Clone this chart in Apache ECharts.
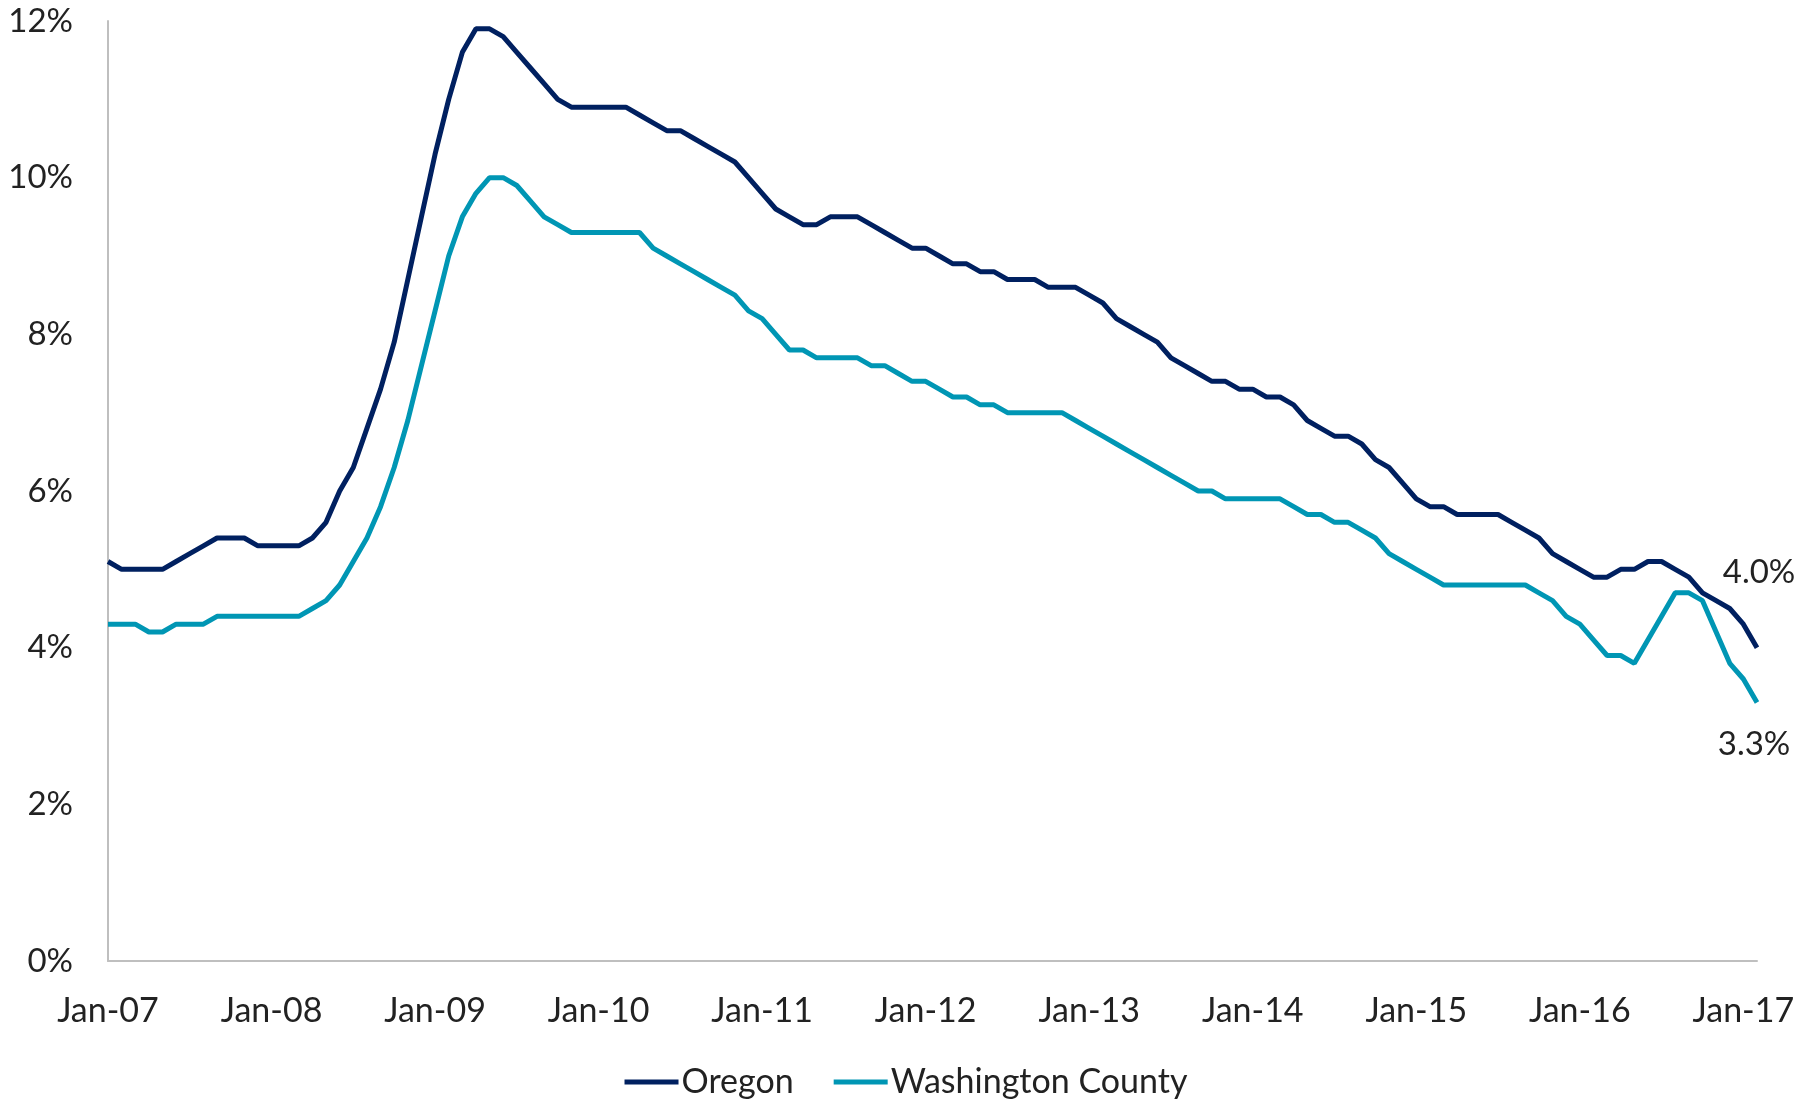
<!DOCTYPE html>
<html>
<head>
<meta charset="utf-8">
<title>Unemployment rate, Oregon vs Washington County</title>
<script src="https://cdn.jsdelivr.net/npm/echarts@6/dist/echarts.min.js"></script>
<style>
  html, body { margin: 0; padding: 0; background: #fff; }
  #chart { width: 1812px; height: 1100px; }
</style>
</head>
<body>
<div id="chart"></div>
<script>
// months Jan-07 .. Feb-17
const years = ["07", "08", "09", "10", "11", "12", "13", "14", "15", "16", "17"];
const months = ["Jan", "Feb", "Mar", "Apr", "May", "Jun", "Jul", "Aug", "Sep", "Oct", "Nov", "Dec"];
const monthCount = 122;

const oregon = [
  5.1, 5.0, 5.0, 5.0, 5.0, 5.1, 5.2, 5.3, 5.4, 5.4, 5.4, 5.3,
  5.3, 5.3, 5.3, 5.4, 5.6, 6.0, 6.3, 6.8, 7.3, 7.9, 8.7, 9.5,
  10.3, 11.0, 11.6, 11.9, 11.9, 11.8, 11.6, 11.4, 11.2, 11.0, 10.9, 10.9,
  10.9, 10.9, 10.9, 10.8, 10.7, 10.6, 10.6, 10.5, 10.4, 10.3, 10.2, 10.0,
  9.8, 9.6, 9.5, 9.4, 9.4, 9.5, 9.5, 9.5, 9.4, 9.3, 9.2, 9.1,
  9.1, 9.0, 8.9, 8.9, 8.8, 8.8, 8.7, 8.7, 8.7, 8.6, 8.6, 8.6,
  8.5, 8.4, 8.2, 8.1, 8.0, 7.9, 7.7, 7.6, 7.5, 7.4, 7.4, 7.3,
  7.3, 7.2, 7.2, 7.1, 6.9, 6.8, 6.7, 6.7, 6.6, 6.4, 6.3, 6.1,
  5.9, 5.8, 5.8, 5.7, 5.7, 5.7, 5.7, 5.6, 5.5, 5.4, 5.2, 5.1,
  5.0, 4.9, 4.9, 5.0, 5.0, 5.1, 5.1, 5.0, 4.9, 4.7, 4.6, 4.5,
  4.3, 4.0
];

const washington = [
  4.3, 4.3, 4.3, 4.2, 4.2, 4.3, 4.3, 4.3, 4.4, 4.4, 4.4, 4.4,
  4.4, 4.4, 4.4, 4.5, 4.6, 4.8, 5.1, 5.4, 5.8, 6.3, 6.9, 7.6,
  8.3, 9.0, 9.5, 9.8, 10.0, 10.0, 9.9, 9.7, 9.5, 9.4, 9.3, 9.3,
  9.3, 9.3, 9.3, 9.3, 9.1, 9.0, 8.9, 8.8, 8.7, 8.6, 8.5, 8.3,
  8.2, 8.0, 7.8, 7.8, 7.7, 7.7, 7.7, 7.7, 7.6, 7.6, 7.5, 7.4,
  7.4, 7.3, 7.2, 7.2, 7.1, 7.1, 7.0, 7.0, 7.0, 7.0, 7.0, 6.9,
  6.8, 6.7, 6.6, 6.5, 6.4, 6.3, 6.2, 6.1, 6.0, 6.0, 5.9, 5.9,
  5.9, 5.9, 5.9, 5.8, 5.7, 5.7, 5.6, 5.6, 5.5, 5.4, 5.2, 5.1,
  5.0, 4.9, 4.8, 4.8, 4.8, 4.8, 4.8, 4.8, 4.8, 4.7, 4.6, 4.4,
  4.3, 4.1, 3.9, 3.9, 3.8, 4.1, 4.4, 4.7, 4.7, 4.6, 4.2, 3.8,
  3.6, 3.3
];

const categories = [];
for (let i = 0; i < monthCount; i++) {
  categories.push(months[i % 12] + "-" + years[Math.floor(i / 12)]);
}

const FONT = "Lato";
const TEXT = "#222";
const last = monthCount - 1;

const chart = echarts.init(document.getElementById("chart"));

chart.setOption({
  animation: false,
  textStyle: { fontFamily: FONT },
  grid: { left: 108, right: 55, top: 21, bottom: 139 },
  legend: {
    left: "center",
    top: 1060,
    icon: "rect",
    itemWidth: 54,
    itemHeight: 5,
    itemGap: 40,
    textStyle: { fontFamily: FONT, fontSize: 34, color: TEXT, padding: [0, 0, 0, -2] },
    data: ["Oregon", "Washington County"]
  },
  xAxis: {
    type: "category",
    data: categories,
    boundaryGap: false,
    axisLine: { lineStyle: { color: "#bfbfbf", width: 2 } },
    axisTick: { show: false },
    axisLabel: {
      interval: 11,
      margin: 33,
      fontSize: 34,
      color: TEXT,
      fontFamily: FONT
    },
    splitLine: { show: false }
  },
  yAxis: {
    type: "value",
    min: 0,
    max: 12,
    interval: 2,
    axisLine: { show: true, lineStyle: { color: "#bfbfbf", width: 2 } },
    axisTick: { show: false },
    splitLine: { show: false },
    axisLabel: {
      margin: 35,
      fontSize: 33,
      color: TEXT,
      fontFamily: FONT,
      formatter: "{value}%"
    }
  },
  series: [
    {
      name: "Oregon",
      type: "line",
      data: oregon,
      showSymbol: false,
      lineStyle: { color: "#002060", width: 5 },
      itemStyle: { color: "#002060" },
      markPoint: {
        symbol: "circle",
        symbolSize: 1,
        itemStyle: { color: "rgba(0,0,0,0)" },
        label: {
          show: true,
          offset: [2, -75],
          fontSize: 33,
          color: TEXT,
          fontFamily: FONT,
          formatter: function (p) { return p.data.coord[1].toFixed(1) + "%"; }
        },
        data: [{ coord: [last, oregon[last]] }]
      }
    },
    {
      name: "Washington County",
      type: "line",
      data: washington,
      showSymbol: false,
      lineStyle: { color: "#0096b4", width: 5 },
      itemStyle: { color: "#0096b4" },
      markPoint: {
        symbol: "circle",
        symbolSize: 1,
        itemStyle: { color: "rgba(0,0,0,0)" },
        label: {
          show: true,
          offset: [-3, 42],
          fontSize: 33,
          color: TEXT,
          fontFamily: FONT,
          formatter: function (p) { return p.data.coord[1].toFixed(1) + "%"; }
        },
        data: [{ coord: [last, washington[last]] }]
      }
    }
  ]
});
</script>
</body>
</html>
